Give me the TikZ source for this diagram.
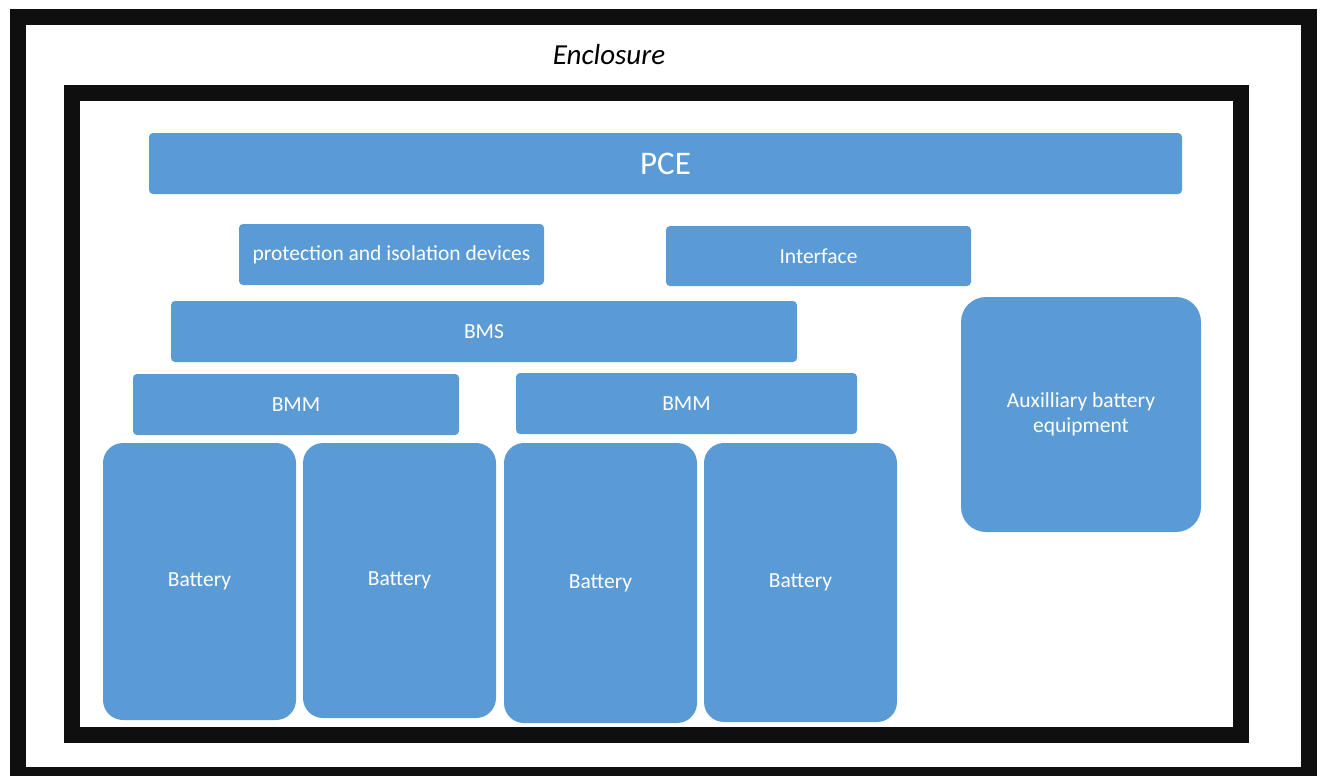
\documentclass[tikz,border=0pt]{standalone}
\usepackage{fontspec}
\setmainfont{Carlito}
\definecolor{officeblue}{HTML}{5B9BD5}
\definecolor{framegray}{HTML}{0F0F0F}
\tikzset{
  blk/.style={fill=officeblue, text=white, rounded corners=4pt, inner sep=0pt, font=\fontsize{21.5}{25}\selectfont, align=center},
  cell/.style={blk, rounded corners=20pt},
  frame/.style={draw=framegray, line width=16pt}
}
\begin{document}
\begin{tikzpicture}[x=1pt,y=-1pt]
  \useasboundingbox (0,0) rectangle (1320,776);
  % enclosure frames
  \draw[frame] (18,17) rectangle (1308.5,775);
  \draw[frame] (72,93) rectangle (1241,734.5);
  \node[font=\fontsize{29}{34}\selectfont\itshape] (encl) at (609,55) {Enclosure};

  \node[blk, minimum width=1033pt, minimum height=61pt, font=\fontsize{33}{38}\selectfont] (pce) at (665.5,163.5) {PCE};
  \node[blk, minimum width=305pt, minimum height=61pt] (prot) at (391.5,254.5) {protection and isolation devices};
  \node[blk, minimum width=305pt, minimum height=60pt] (iface) at (818.5,256) {Interface};
  \node[blk, minimum width=626pt, minimum height=61pt] (bms) at (484,331.5) {BMS};
  \node[blk, minimum width=326pt, minimum height=61pt] (bmma) at (296,404.5) {BMM};
  \node[blk, minimum width=341pt, minimum height=61pt] (bmmb) at (686.5,403.5) {BMM};
  \node[cell, minimum width=240pt, minimum height=235pt, rounded corners=25pt] (aux) at (1081,414.5) {Auxilliary battery\\equipment};

  % battery cells
  \node[cell, minimum width=193pt, minimum height=277pt] (bat1) at (199.5,581.5) {Battery};
  \node[cell, minimum width=193pt, minimum height=275pt] (bat2) at (399.5,580.5) {Battery};
  \node[cell, minimum width=193pt, minimum height=280pt] (bat3) at (600.5,583) {Battery};
  \node[cell, minimum width=193pt, minimum height=279pt] (bat4) at (800.5,582.5) {Battery};
\end{tikzpicture}
\end{document}
